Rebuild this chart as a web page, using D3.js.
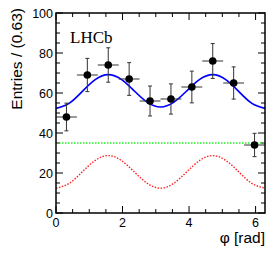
<!DOCTYPE html>
<html>
<head>
<meta charset="utf-8">
<script src="https://cdn.jsdelivr.net/npm/d3@7"></script>
<style>
  body { margin:0; background:#fff; }
  text { font-family: "Liberation Sans", Arial, sans-serif; }
</style>
</head>
<body>
<div id="chart"></div>
<script>
// bin centres (10 bins over 0..2pi, width 0.63) and counts
const binCenters = [0.314, 0.942, 1.571, 2.199, 2.827, 3.456, 4.084, 4.712, 5.341, 5.969];
const counts = [48, 69, 74, 67, 56, 57, 63, 76, 65, 34];
const binHalfWidth = 0.314;

// fit curves at phi = k*pi/8
const curvePhi = [0, 0.393, 0.785, 1.178, 1.571, 1.963, 2.356, 2.749, 3.142, 3.534, 3.927, 4.320, 4.712, 5.105, 5.498, 5.890, 6.283];
const totalFit = [52.3, 54.8, 60.7, 66.7, 69.2, 66.8, 61.0, 55.3, 53.0, 55.3, 61.0, 66.8, 69.2, 66.7, 60.7, 54.8, 52.3];
const signalFit = [12.4, 14.8, 20.5, 26.3, 28.7, 26.3, 20.5, 14.8, 12.4, 14.8, 20.5, 26.3, 28.7, 26.3, 20.5, 14.8, 12.4];
const flatFit = [35, 35];
const flatPhi = [0, 6.283];

const xMajor = [0, 2, 4, 6];
const yMajor = [0, 20, 40, 60, 80, 100];

const W = 279, H = 266;
const m = {left:56, right:14, top:13, bottom:53};
const svg = d3.select('#chart').append('svg').attr('width', W).attr('height', H);

const x = d3.scaleLinear().domain([0, 2*Math.PI]).range([m.left, W - m.right]);
const y = d3.scaleLinear().domain([0, 100]).range([H - m.bottom, m.top]);

const x0 = x.range()[0], x1 = x.range()[1], y0 = y.range()[0], y1 = y.range()[1];

// ticks (inward, ROOT-style, on all four sides)
const tk = svg.append('g').attr('stroke','#000').attr('stroke-width',1);
d3.range(0, 6.3, 0.5).forEach(v=>{
  const major = Math.abs(v - Math.round(v/2)*2) < 1e-6;
  const len = major ? 7 : 4;
  tk.append('line').attr('x1',x(v)).attr('x2',x(v)).attr('y1',y0).attr('y2',y0-len);
  tk.append('line').attr('x1',x(v)).attr('x2',x(v)).attr('y1',y1).attr('y2',y1+len);
});
d3.range(0, 101, 5).forEach(v=>{
  const len = v % 20 === 0 ? 7 : 4;
  tk.append('line').attr('x1',x0).attr('x2',x0+len).attr('y1',y(v)).attr('y2',y(v));
  tk.append('line').attr('x1',x1).attr('x2',x1-len).attr('y1',y(v)).attr('y2',y(v));
});

// labels
svg.selectAll('text.xt').data(xMajor).enter().append('text')
  .attr('x', d=>x(d)).attr('y', y0+14).attr('text-anchor','middle')
  .style('font-size','12.5px').text(d=>d);
svg.selectAll('text.yt').data(yMajor).enter().append('text')
  .attr('x', x0-3).attr('y', d=>y(d)+4.5).attr('text-anchor','end')
  .style('font-size','12.5px').text(d=>d);

svg.append('text').attr('x', x1).attr('y', 243).attr('text-anchor','end')
  .style('font-size','15.5px').text('φ [rad]');
svg.append('text').attr('transform','translate(22,8) rotate(-90)').attr('text-anchor','end')
  .style('font-size','15.5px').text('Entries / (0.63)');

svg.append('text').attr('x', 70).attr('y', 43)
  .style('font-family','"Liberation Serif", "Times New Roman", serif').style('font-size','17px').text('LHCb');

// curves
const line = d3.line().x(d=>x(d[0])).y(d=>y(d[1])).curve(d3.curveNatural);
svg.append('path').attr('d', line(d3.zip(flatPhi, flatFit)))
  .attr('fill','none').attr('stroke','#22ee22').attr('stroke-width',1.6).attr('stroke-dasharray','1.5,1.5');
svg.append('path').attr('d', line(d3.zip(curvePhi, signalFit)))
  .attr('fill','none').attr('stroke','#ff2020').attr('stroke-width',1.4).attr('stroke-dasharray','1.5,1.5');
svg.append('path').attr('d', line(d3.zip(curvePhi, totalFit)))
  .attr('fill','none').attr('stroke','#0000ff').attr('stroke-width',1.7);

// data points with errors
const pts = svg.append('g');
binCenters.forEach((c,i)=>{
  const n = counts[i], e = Math.sqrt(n);
  const g = pts.append('g').attr('stroke','#333').attr('stroke-width',1);
  g.append('line').attr('x1',x(c-binHalfWidth)).attr('x2',x(c+binHalfWidth)).attr('y1',y(n)).attr('y2',y(n));
  g.append('line').attr('x1',x(c)).attr('x2',x(c)).attr('y1',y(n-e)).attr('y2',y(n+e));
  [n-e, n+e].forEach(v=> g.append('line').attr('x1',x(c)-2).attr('x2',x(c)+2).attr('y1',y(v)).attr('y2',y(v)));
  pts.append('circle').attr('cx',x(c)).attr('cy',y(n)).attr('r',3.8).attr('fill','#000');
});

// frame
svg.append('rect').attr('x',x0).attr('y',y1).attr('width',x1-x0).attr('height',y0-y1)
  .attr('fill','none').attr('stroke','#000').attr('stroke-width',1.5);
</script>
</body>
</html>
